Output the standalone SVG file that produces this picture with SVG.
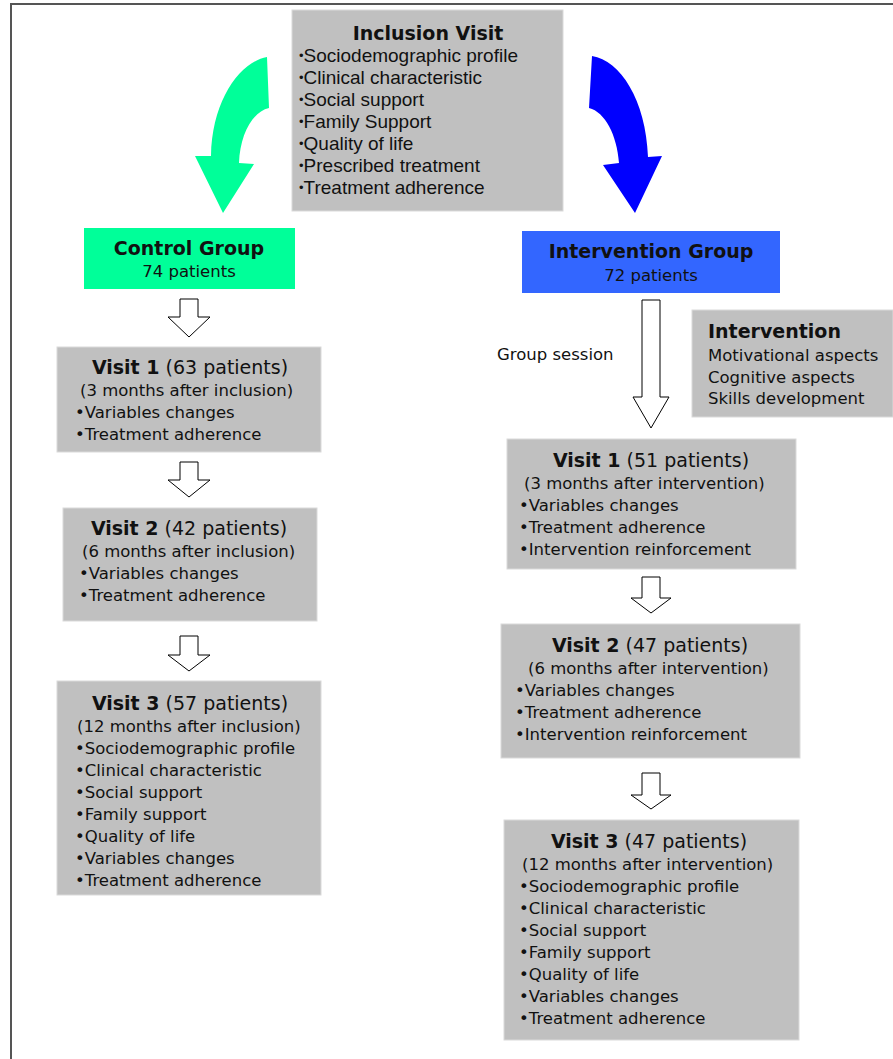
<svg xmlns="http://www.w3.org/2000/svg" width="893" height="1059" viewBox="0 0 893 1059">
  <style>
    .box { fill: #c0c0c0; stroke: #dadada; stroke-width: 1; }
    .v { font-family: "DejaVu Sans", Verdana, sans-serif; fill: #111; }
    .a { font-family: "Liberation Sans", Arial, sans-serif; fill: #111; }
    .t { font-size: 19px; }
    .b { font-size: 16.5px; }
    .bold { font-weight: bold; }
    .mid { text-anchor: middle; }
    .dot { font-size: 13px; }
    .hollow { fill: #fff; stroke: #000; stroke-width: 1; stroke-linejoin: miter; }
  </style>

  <rect x="0" y="0" width="893" height="1059" fill="#fff"/>

  <!-- page frame -->
  <g id="frame" stroke="#555" stroke-width="2" fill="none">
    <line x1="10" y1="4" x2="893" y2="4"/>
    <line x1="11" y1="4" x2="11" y2="1059"/>
  </g>

  <!-- baseline visit -->
  <g id="inclusion">
    <rect class="box" x="292" y="10" width="271" height="201"/>
    <text class="v t bold mid" x="428" y="40">Inclusion Visit</text>
    <g class="a" font-size="19">
      <text x="299" y="62"><tspan class="dot" dy="-2">•</tspan><tspan dy="2">Sociodemographic profile</tspan></text>
      <text x="299" y="84"><tspan class="dot" dy="-2">•</tspan><tspan dy="2">Clinical characteristic</tspan></text>
      <text x="299" y="106"><tspan class="dot" dy="-2">•</tspan><tspan dy="2">Social support</tspan></text>
      <text x="299" y="128"><tspan class="dot" dy="-2">•</tspan><tspan dy="2">Family Support</tspan></text>
      <text x="299" y="150"><tspan class="dot" dy="-2">•</tspan><tspan dy="2">Quality of life</tspan></text>
      <text x="299" y="172"><tspan class="dot" dy="-2">•</tspan><tspan dy="2">Prescribed treatment</tspan></text>
      <text x="299" y="194"><tspan class="dot" dy="-2">•</tspan><tspan dy="2">Treatment adherence</tspan></text>
    </g>
  </g>

  <!-- connectors -->
  <g id="connectors">
    <!-- curved split arrows -->
    <path d="M267,57 L269,108 C252,112 240,135 239,163 L254,164 L223,213 L195,156 L211,156 C212,100 240,62 267,57 Z" fill="#00ff99"/>
    <path d="M592,56 C620,60 646,100 648,157 L662,156 L635,213 L603,165 L619,163 C617,135 605,112 589,108 Z" fill="#0000ff"/>
    <!-- control arm -->
    <path class="hollow" d="M180,299 H198 V317 H210 L189,337 L168,317 H180 Z"/>
    <path class="hollow" d="M180,462 H198 V480 H210 L189,497 L168,480 H180 Z"/>
    <path class="hollow" d="M180,636 H198 V655 H210 L189,671 L168,655 H180 Z"/>
    <!-- intervention arm -->
    <path class="hollow" d="M642,300 H660 V397 H669 L651,428 L633,397 H642 Z"/>
    <path class="hollow" d="M642,577 H660 V598 H671 L651,613 L631,598 H642 Z"/>
    <path class="hollow" d="M642,773 H660 V795 H671 L651,809 L631,795 H642 Z"/>
    <text class="v b" x="497" y="360">Group session</text>
  </g>

  <!-- control arm nodes -->
  <g id="control-group">
    <rect x="84" y="228" width="211" height="61" fill="#00ff99"/>
    <text class="v t bold mid" x="189" y="255">Control Group</text>
    <text class="v b mid" x="189" y="277">74 patients</text>
  </g>

  <g id="control-visit1">
    <rect class="box" x="57" y="347" width="264" height="105"/>
    <text class="v t mid" x="190" y="374"><tspan class="bold">Visit 1</tspan> (63 patients)</text>
    <g class="v b">
      <text x="80" y="396">(3 months after inclusion)</text>
      <text x="75" y="418">•Variables changes</text>
      <text x="75" y="440">•Treatment adherence</text>
    </g>
  </g>

  <g id="control-visit2">
    <rect class="box" x="63" y="508" width="254" height="113"/>
    <text class="v t mid" x="189" y="535"><tspan class="bold">Visit 2</tspan> (42 patients)</text>
    <g class="v b">
      <text x="82" y="557">(6 months after inclusion)</text>
      <text x="79" y="579">•Variables changes</text>
      <text x="79" y="601">•Treatment adherence</text>
    </g>
  </g>

  <g id="control-visit3">
    <rect class="box" x="57" y="681" width="264" height="214"/>
    <text class="v t mid" x="190" y="710"><tspan class="bold">Visit 3</tspan> (57 patients)</text>
    <g class="v b">
      <text x="77" y="732">(12 months after inclusion)</text>
      <text x="75" y="754">•Sociodemographic profile</text>
      <text x="75" y="776">•Clinical characteristic</text>
      <text x="75" y="798">•Social support</text>
      <text x="75" y="820">•Family support</text>
      <text x="75" y="842">•Quality of life</text>
      <text x="75" y="864">•Variables changes</text>
      <text x="75" y="886">•Treatment adherence</text>
    </g>
  </g>

  <!-- intervention arm nodes -->
  <g id="intervention-group">
    <rect x="522" y="231" width="258" height="62" fill="#3366ff"/>
    <text class="v t bold mid" x="651" y="258">Intervention Group</text>
    <text class="v b mid" x="651" y="281">72 patients</text>
  </g>

  <g id="intervention-content">
    <rect class="box" x="692" y="310" width="201" height="107"/>
    <text class="v t bold" x="708" y="338">Intervention</text>
    <g class="v b">
      <text x="708" y="361">Motivational aspects</text>
      <text x="708" y="383">Cognitive aspects</text>
      <text x="708" y="404">Skills development</text>
    </g>
  </g>

  <g id="intervention-visit1">
    <rect class="box" x="507" y="439" width="289" height="130"/>
    <text class="v t mid" x="651" y="467"><tspan class="bold">Visit 1</tspan> (51 patients)</text>
    <g class="v b">
      <text x="524" y="489">(3 months after intervention)</text>
      <text x="519" y="511">•Variables changes</text>
      <text x="519" y="533">•Treatment adherence</text>
      <text x="519" y="555">•Intervention reinforcement</text>
    </g>
  </g>

  <g id="intervention-visit2">
    <rect class="box" x="501" y="624" width="299" height="134"/>
    <text class="v t mid" x="650" y="652"><tspan class="bold">Visit 2</tspan> (47 patients)</text>
    <g class="v b">
      <text x="528" y="674">(6 months after intervention)</text>
      <text x="515" y="696">•Variables changes</text>
      <text x="515" y="718">•Treatment adherence</text>
      <text x="515" y="740">•Intervention reinforcement</text>
    </g>
  </g>

  <g id="intervention-visit3">
    <rect class="box" x="504" y="820" width="295" height="220"/>
    <text class="v t mid" x="649" y="848"><tspan class="bold">Visit 3</tspan> (47 patients)</text>
    <g class="v b">
      <text x="522" y="870">(12 months after intervention)</text>
      <text x="519" y="892">•Sociodemographic profile</text>
      <text x="519" y="914">•Clinical characteristic</text>
      <text x="519" y="936">•Social support</text>
      <text x="519" y="958">•Family support</text>
      <text x="519" y="980">•Quality of life</text>
      <text x="519" y="1002">•Variables changes</text>
      <text x="519" y="1024">•Treatment adherence</text>
    </g>
  </g>
</svg>
